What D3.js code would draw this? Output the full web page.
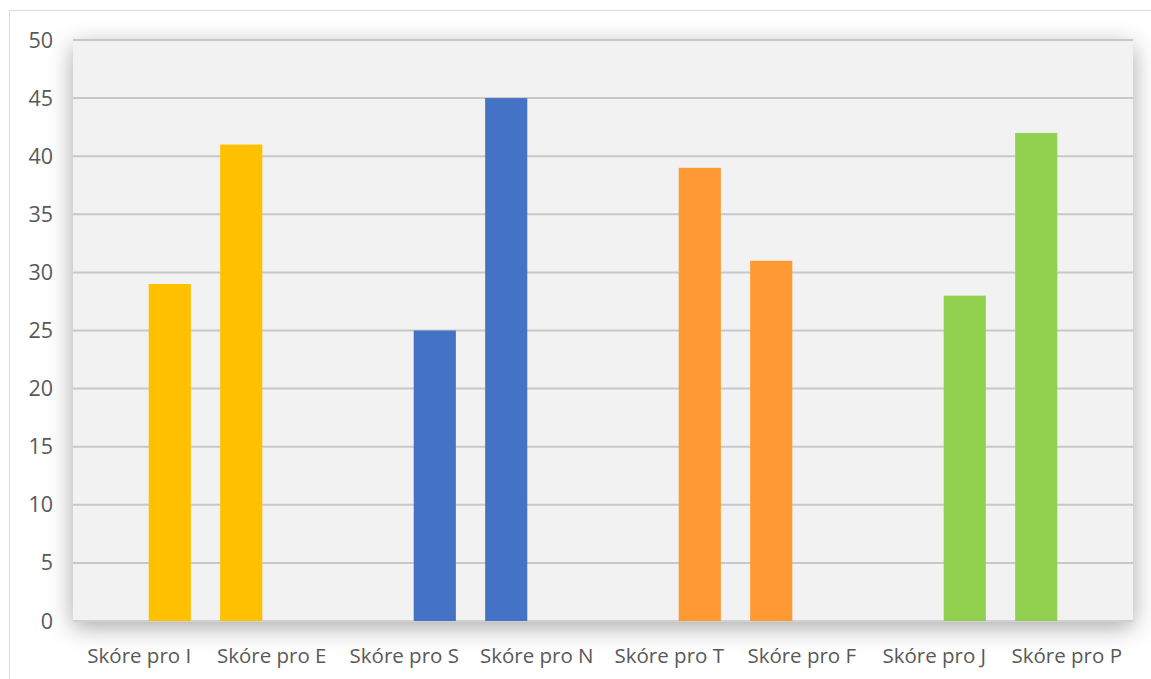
<!DOCTYPE html>
<html>
<head>
<meta charset="utf-8">
<script src="https://cdn.jsdelivr.net/npm/d3@7"></script>
<style>
  body { margin: 0; background: #fff; }
  svg text { font-family: "Open Sans", "Noto Sans", sans-serif; fill: #595959; }
</style>
</head>
<body>
<svg id="chart" width="1151" height="679"></svg>
<script>
// chart data
const categories = ["Skóre pro I", "Skóre pro E", "Skóre pro S", "Skóre pro N",
                    "Skóre pro T", "Skóre pro F", "Skóre pro J", "Skóre pro P"];
const scores = [29, 41, 25, 45, 39, 31, 28, 42];
const barColors = ["#FFC000", "#FFC000", "#4472C4", "#4472C4",
                   "#FF9933", "#FF9933", "#92D050", "#92D050"];
const yTicks = [0, 5, 10, 15, 20, 25, 30, 35, 40, 45, 50];

const svg = d3.select("#chart");
const plot = { left: 73, right: 1133, top: 40, bottom: 621 };

// outer chart frame
svg.append("rect")
    .attr("x", 9.5).attr("y", 10.5)
    .attr("width", 1160).attr("height", 700)
    .attr("fill", "#fff")
    .attr("stroke", "#d9d9d9");

// soft shadow under the plot area
const defs = svg.append("defs");
const shadow = defs.append("filter").attr("id", "shadow")
    .attr("x", "-10%").attr("y", "-10%").attr("width", "120%").attr("height", "125%");
shadow.append("feDropShadow")
    .attr("dx", 0).attr("dy", 6)
    .attr("stdDeviation", 12)
    .attr("flood-color", "#000").attr("flood-opacity", 0.35);

svg.append("rect")
    .attr("x", plot.left).attr("y", plot.top)
    .attr("width", plot.right - plot.left).attr("height", plot.bottom - plot.top)
    .attr("fill", "#f2f2f2")
    .attr("filter", "url(#shadow)");

// scales
let x = d3.scaleBand().domain(categories).range([plot.left, plot.right]);
// each category has two slots; odd ones use the right slot, even ones the left
let slot = d3.scaleBand().domain([0, 1]).range([0, x.bandwidth()])
    .paddingInner(0.31).paddingOuter(0.24);
let y = d3.scaleLinear().domain([0, 50]).range([plot.bottom, plot.top]);

// gridlines
svg.append("g").selectAll("line")
    .data(yTicks)
    .enter()
    .append("line")
    .attr("x1", plot.left).attr("x2", plot.right)
    .attr("y1", d => y(d)).attr("y2", d => y(d))
    .attr("stroke", d => d === 0 ? "#d0d0d0" : "#c8c8c8")
    .attr("stroke-width", 2);

// bars
svg.append("g").selectAll("rect")
    .data(scores)
    .enter()
    .append("rect")
    .attr("x", (d, i) => x(categories[i]) + slot(i % 2 === 0 ? 1 : 0))
    .attr("y", d => y(d))
    .attr("width", slot.bandwidth())
    .attr("height", d => y(0) - y(d))
    .attr("fill", (d, i) => barColors[i]);

// y axis labels
svg.append("g").selectAll("text")
    .data(yTicks)
    .enter()
    .append("text")
    .attr("x", 53)
    .attr("y", d => y(d))
    .attr("dy", "0.35em")
    .attr("text-anchor", "end")
    .style("font-size", "21.5px")
    .text(d => d);

// x axis labels
svg.append("g").selectAll("text")
    .data(categories)
    .enter()
    .append("text")
    .attr("x", d => x(d) + x.bandwidth() / 2)
    .attr("y", 663)
    .attr("text-anchor", "middle")
    .style("font-size", "20.5px")
    .text(d => d);
</script>
</body>
</html>
